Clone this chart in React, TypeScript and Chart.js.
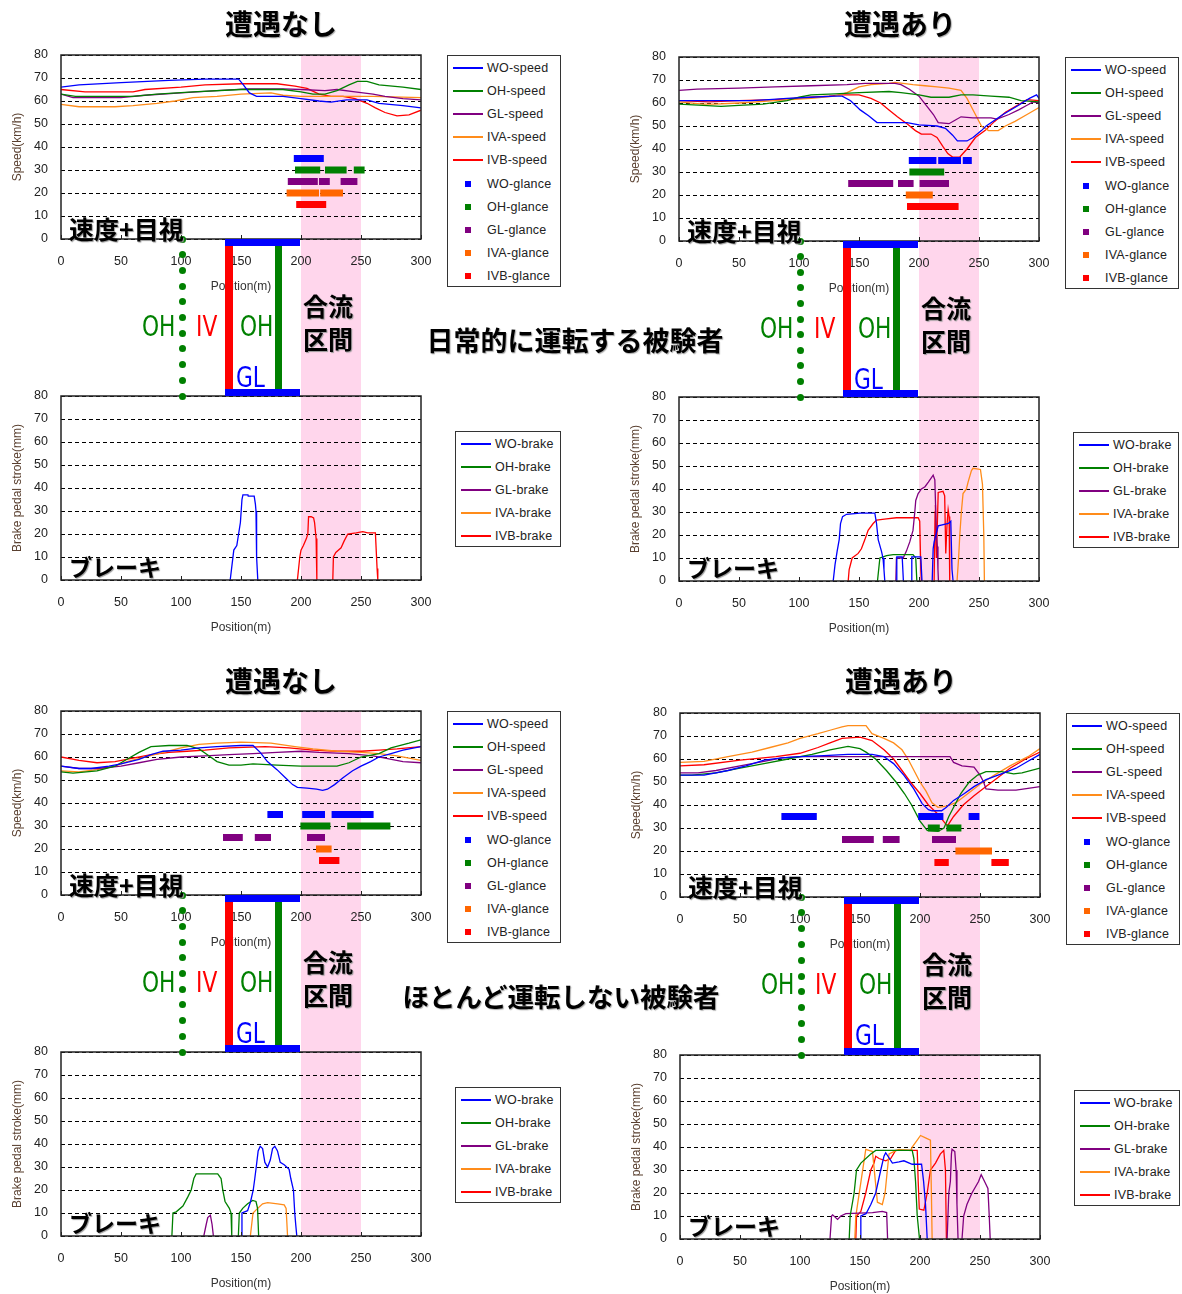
import React, { useEffect, useRef } from "react";
import { Chart, registerables } from "chart.js";
Chart.register(...registerables);

type P = [number, number | null];
type Seg = [number, number];

// ---------------- tick labels ----------------
const X_TICKS = [0, 50, 100, 150, 200, 250, 300];
const Y_TICKS = [0, 10, 20, 30, 40, 50, 60, 70, 80];

// ---------------- series meta ----------------
const SERIES = ["WO", "OH", "GL", "IVA", "IVB"];
const LINE_COLORS = ["#0000FF", "#008000", "#800080", "#FF8C1A", "#FF0000"];
const GLANCE_COLORS = ["#0000FF", "#008000", "#800080", "#FF6600", "#FF0000"];
const GLANCE_LEVELS = [35, 30, 25, 20, 15];

// ---------------- Panel A: 日常的 / 遭遇なし ----------------
const A_WO_speed: P[] = [[0,66],[15,67],[50,68],[90,69],[120,69.5],[148,69.5],[152,67],[157,63.5],[163,62],[185,62],[200,61],[215,60],[225,59.5],[238,60.5],[255,60.5],[265,59],[285,58],[300,57]];
const A_OH_speed: P[] = [[0,63],[12,62],[60,62],[80,63],[110,64],[150,65],[185,65],[200,64],[210,63],[220,63],[230,64.5],[240,67],[247,68.5],[255,68.5],[265,67],[285,66],[300,65]];
const A_GL_speed: P[] = [[0,63],[10,61.5],[50,61.5],[70,62.5],[100,63.5],[130,64.5],[155,65.3],[185,65.3],[200,65],[220,64.5],[230,65],[245,64],[260,63],[270,62],[285,61],[300,60.5]];
const A_IVA_speed: P[] = [[0,58.5],[15,57.5],[45,57.5],[60,58],[80,59],[95,60],[110,61.5],[130,62],[150,63],[175,63.5],[185,62.5],[200,62],[260,62],[300,61.5]];
const A_IVB_speed: P[] = [[0,65],[20,64],[60,64],[70,65],[100,66],[120,67],[150,67.5],[180,67.5],[195,66.5],[205,65.5],[215,63],[225,62],[235,62],[245,61],[255,59],[262,57],[270,55],[280,53.5],[290,54],[300,56]];
const A_WO_glance: Seg[] = [[194,219]];
const A_OH_glance: Seg[] = [[195,216],[220,238],[244,253]];
const A_GL_glance: Seg[] = [[189,214],[215,224],[233,247]];
const A_IVA_glance: Seg[] = [[188,215],[216,235]];
const A_IVB_glance: Seg[] = [[196,221]];
const A_WO_brake: P[] = [[141,0],[144,13],[146.5,15],[148,20],[149.5,25],[150.8,35],[151.6,37],[155.8,37],[156,36.5],[161,36.5],[162,33],[162.5,30],[163,10],[164,0]];
const A_OH_brake: P[] = [];
const A_GL_brake: P[] = [];
const A_IVA_brake: P[] = [];
const A_IVB_brake: P[] = [[197,0],[199,10],[200,13],[202,15],[204.5,18],[205.7,20],[206.3,27.5],[208.5,27.5],[210.5,27],[211.3,25],[212.6,18],[213.2,0],[220,null],[226.5,0],[227,10],[229,12],[233.4,14],[236,17],[239,20],[246,20.5],[251.5,21],[255.6,20.5],[262,20.5],[263.4,5],[264,0]];

// ---------------- Panel B: 日常的 / 遭遇あり ----------------
const B_WO_speed: P[] = [[0,61],[30,61],[60,61],[75,61.5],[90,62],[110,62.5],[130,63],[136,63],[143,61],[151,57],[158,54.5],[165,51.5],[190,51.5],[200,50.5],[215,50],[222,49],[228,46],[232,43.5],[240,43.5],[245,45],[252,48],[256,50],[270,55],[283,59],[292,62],[298,63.5],[300,62]];
const B_OH_speed: P[] = [[0,59.5],[20,59],[35,58.5],[50,59],[70,59.5],[90,61],[100,62.5],[110,63.5],[130,64],[150,64.5],[175,65],[185,64.5],[200,63.5],[210,62.5],[225,62.5],[235,63.5],[245,63.5],[260,63],[275,62.5],[285,61],[300,60.5]];
const B_GL_speed: P[] = [[0,65.5],[15,66],[50,66.5],[80,67],[110,67.5],[140,68],[155,68.5],[180,68.5],[185,68],[192,66],[200,63],[206,59],[212,55],[216,51.5],[225,51],[230,52.5],[235,54],[245,53.5],[260,53.5],[265,53],[275,55],[283,57],[290,59],[295,60.5],[300,60]];
const B_IVA_speed: P[] = [[0,60.5],[20,59.5],[30,59.5],[50,60],[80,61],[110,62],[130,63],[140,64.5],[150,67],[160,68],[175,68.5],[180,69],[195,68],[205,67.5],[215,67],[225,66.5],[235,65.5],[240,62],[247,55],[252,50],[258,48],[266,48],[272,50],[280,52],[290,55],[300,58]];
const B_IVB_speed: P[] = [[0,61],[25,60.5],[50,61],[80,61.5],[110,62.5],[125,63],[135,63.5],[150,63.5],[160,62],[168,60],[175,57],[182,54],[190,51],[197,48],[202,46.5],[210,46.5],[215,45],[220,41],[224,38],[228,36.5],[234,36.5],[240,40],[247,45],[255,48],[263,52],[272,56],[282,59],[290,61.5],[300,61]];
const B_WO_glance: Seg[] = [[191.5,214.5],[216,235],[236.5,244]];
const B_OH_glance: Seg[] = [[192,221]];
const B_GL_glance: Seg[] = [[141,178.5],[182.5,195.5],[200.5,225]];
const B_IVA_glance: Seg[] = [[189,211.5]];
const B_IVB_glance: Seg[] = [[190,233]];
const B_WO_brake: P[] = [[128.5,0],[130,7],[131.8,13],[133.5,18],[134.6,25],[136.3,28],[139.6,29],[150.7,29.5],[163.2,29.5],[164.6,25],[166,18],[168.7,13],[170,10],[170.8,5],[171.5,0],[176,null],[181,0],[181.5,10.5],[186,10.5],[187,0],[190,null],[193.5,0],[194,10.5],[199.5,10.5],[201.5,10.5],[202.5,0],[206,null],[211,0],[211.8,14],[212.6,17],[216,24],[224.5,25],[226.5,26],[227.5,5],[228.4,0]];
const B_OH_brake: P[] = [[165.4,0],[167.4,10],[173,11],[178.5,11.5],[195,11.5],[197.3,10],[198.2,0]];
const B_GL_brake: P[] = [[180.7,0],[181.2,10],[186.8,10],[189.5,13],[192.3,17],[195,22],[196.5,30],[197.3,35],[199.3,38],[202,40],[205,41],[207.8,43],[211.8,46],[213.2,44],[214.5,20],[215.3,15],[215.8,5],[216.2,0]];
const B_IVA_brake: P[] = [[231.7,0],[233,10],[234,20],[235.3,30],[236.7,38],[239.5,40],[240.9,43],[243.7,48],[245,49],[251.2,48.5],[252.9,42],[254,20],[254.5,0]];
const B_IVB_brake: P[] = [[141,0],[141.8,5],[144.3,10],[149.3,12],[152,14],[154.9,18],[157.6,22],[161.8,25],[164.6,26.5],[172.9,27],[181.2,27.5],[199.3,27.5],[200.6,26],[201.5,5],[202,0],[207,null],[212.6,0],[213.4,30],[213.7,33],[214.5,10],[216,38.5],[220,39],[221.4,37],[222.3,12],[223.4,25],[224.3,31],[225.1,28],[225.6,0]];

// ---------------- Panel C: ほとんど運転しない / 遭遇なし ----------------
const C_WO_speed: P[] = [[0,56],[15,55],[25,55],[40,56],[50,57],[65,59],[75,61],[85,62.5],[100,63],[115,64],[130,64.5],[150,65],[160,65],[166,62],[172,58],[180,54.5],[187,51],[193,48],[197,46.8],[205,46.5],[213,46],[218,45.5],[222,46],[228,48],[235,51],[243,54],[250,56],[258,58],[265,60],[275,61.5],[285,63],[300,64.5]];
const C_OH_speed: P[] = [[0,53.5],[10,53],[30,54],[45,56],[55,59],[65,62],[75,64.5],[90,65],[105,65],[115,63.5],[122,61],[130,58],[140,56.5],[150,56.5],[160,57],[180,56.5],[200,56],[230,56],[240,57.5],[250,60],[265,61.5],[275,64],[290,66],[300,67.5]];
const C_GL_speed: P[] = [[0,56],[15,55],[30,55],[50,56],[65,57.5],[80,59],[100,60],[120,60.5],[140,61],[160,61.5],[180,62],[200,62.5],[215,62],[240,61.5],[260,60.5],[270,59.5],[285,58],[300,57.5]];
const C_IVA_speed: P[] = [[0,54],[15,53.5],[30,54.5],[45,56],[55,58],[70,60],[85,62],[100,64],[115,65.5],[130,66],[150,66.5],[175,66],[195,64.5],[210,63.5],[230,62.5],[250,62],[265,61.5],[280,60.5],[290,59.5],[300,58.5]];
const C_IVB_speed: P[] = [[0,60],[15,58.5],[30,57.5],[45,58],[60,59.5],[75,61],[90,62],[105,62.5],[120,63],[140,64],[170,64.5],[190,64],[210,63],[230,62.5],[250,62.5],[265,63],[280,63.5],[300,64.5]];
const C_WO_glance: Seg[] = [[172,185],[201,220],[225.5,260.5]];
const C_OH_glance: Seg[] = [[199.5,224.5],[238.5,274.5]];
const C_GL_glance: Seg[] = [[135,151.5],[161.5,175],[205,220]];
const C_IVA_glance: Seg[] = [[212.5,225.5]];
const C_IVB_glance: Seg[] = [[215,232]];
const C_WO_brake: P[] = [[150,0],[150.8,10],[155.5,11],[158,15],[160.2,20],[161.5,25],[162.7,30],[164.3,37],[166,39],[168,38],[169.9,32],[172.2,30],[174.4,33],[176.3,38],[178.2,39],[180.4,37],[182.7,32],[186,31],[190.1,29],[191.5,25],[193.7,20],[194.8,10],[195.6,5],[196.5,0]];
const C_OH_brake: P[] = [[92.4,0],[93.3,10],[96,10.5],[101.6,13],[105.7,17],[108.5,20],[110.7,25],[112.6,27],[130.6,27],[133.4,25],[134.8,20],[136.7,15],[140.3,12],[141.7,10],[142.3,0],[145,null],[147.8,0],[148.6,10],[151.4,12],[155.5,14],[159.7,15.5],[162.5,15],[163.8,12],[164.7,0]];
const C_GL_brake: P[] = [[119,0],[121,5],[122.3,8],[124.5,9],[125.9,5],[127,0]];
const C_IVA_brake: P[] = [[157.8,0],[160,10],[163.9,12],[168,14],[172.2,14.5],[180.5,14],[186,13.5],[187.6,12],[188.8,0]];
const C_IVB_brake: P[] = [];

// ---------------- Panel D: ほとんど運転しない / 遭遇あり ----------------
const D_WO_speed: P[] = [[0,53],[20,53],[40,55],[55,57],[70,59.5],[85,60.5],[100,61],[120,61.5],[140,62],[160,62],[170,61],[178,58],[186.5,53],[194.8,47],[201.8,40.6],[207,38],[210,37.5],[218,37.5],[222,39],[228,42],[237,45],[245,48],[255,51],[270,54],[280,56],[290,59],[300,62]];
const D_OH_speed: P[] = [[0,53],[10,53],[30,54],[50,56],[70,58],[90,60],[110,62],[125,64],[140,65.5],[150,64.5],[155,63],[163,60],[172,55],[180,50],[187,45],[193,40],[200,33],[206,29],[215,28.5],[220,30],[224,35],[229,40],[234,45],[241,50],[248,53],[255,54.5],[268,54.5],[278,53.5],[285,54],[300,56]];
const D_GL_speed: P[] = [[0,54],[15,54],[30,55],[50,57],[70,59],[85,60.5],[100,61],[150,61],[200,61],[225,61],[228,58.5],[235,57],[245,56.5],[250,53],[253,50],[255,47],[265,46.5],[280,46.5],[300,48]];
const D_IVA_speed: P[] = [[0,58.5],[20,59],[40,61],[60,63],[75,65],[90,67],[100,69],[115,71],[125,72.5],[135,74],[140,74.5],[155,74.5],[160,71],[170,69],[178,67],[185,64],[190,60],[195,55],[200,50],[205,46],[210,41],[215,39],[222,39.5],[230,41],[240,45],[250,49],[262,53],[275,57],[290,61],[300,64.5]];
const D_IVB_speed: P[] = [[0,57],[20,57.5],[50,59.5],[80,61],[100,62.5],[115,65],[125,67],[135,69],[150,69.5],[160,68],[170,64],[178,60],[185,55],[192,50],[200,45],[207,40],[215,36],[221,32],[223,31],[228,35],[236,40],[245,44],[255,48],[265,52],[275,56],[288,60],[300,63]];
const D_WO_glance: Seg[] = [[84.5,114],[198.5,219.5],[240.5,249.5]];
const D_OH_glance: Seg[] = [[206.5,216.5],[222,234.5]];
const D_GL_glance: Seg[] = [[135,161.5],[169,183],[210,230]];
const D_IVA_glance: Seg[] = [[229.5,260]];
const D_IVB_glance: Seg[] = [[212,224],[259.5,274]];
const D_WO_brake: P[] = [[150.1,0],[150.7,10],[155,11],[159,15],[163.1,20],[167.3,30],[170,36],[171.4,37.5],[177,33],[182.5,33.5],[186.6,34],[193.5,32.5],[201.3,32.5],[203,25],[204.6,15],[206,0]];
const D_OH_brake: P[] = [[141,0],[141.8,10],[145.1,20],[147.1,30],[150.7,33],[159,37],[163.1,38.5],[193.5,38.5],[194.9,35],[196.3,25],[197.7,10],[199.6,0]];
const D_GL_brake: P[] = [[125,0],[126.3,10],[127.2,10.5],[131.3,8.5],[134,10],[138.2,11],[160.4,11.5],[168.6,12],[172.2,11.5],[173,0],[200,null],[222.6,0],[224,20],[225.3,25],[226.2,37],[226.7,39],[229,38],[230.1,30],[230.8,15],[231.7,0],[233,null],[235,0],[236.4,10],[239.1,15],[243.3,20],[248.8,25],[251,28],[253.8,25],[256.6,22],[257.7,10],[258.5,0]];
const D_IVA_brake: P[] = [[145.7,0],[146.5,10],[147.1,12],[154.8,39],[160.4,38],[164.5,16],[168.6,15],[170.9,20],[172.8,30],[174.2,37],[178.3,38],[182.5,39],[192.2,38.5],[193.5,40],[197.7,43],[200.4,45],[204.6,44],[208.7,43],[209.5,20],[210.1,0]];
const D_IVB_brake: P[] = [[146.5,0],[147.1,10],[150.7,12],[154.8,20],[159,30],[161.7,33],[163.1,36],[165.9,35],[171.4,34],[175.6,35],[179.7,38.5],[197.7,38.5],[198.5,25],[199.4,13],[203.2,12.5],[206,20],[208.7,30],[212.9,33],[217,37],[219.8,38.5],[221.2,30],[222,0]];

// ---------------- layout constants ----------------
const FONT = "'Liberation Sans', Arial, Helvetica, sans-serif";
const CJK = "'Noto Sans CJK JP', 'Noto Sans CJK SC', sans-serif";
const NARROW = "'DejaVu Sans', sans-serif";
const PLOT_W = 360;
const PLOT_H = 184;
const PAD_L = 61;
const PAD_T = 24;
const PAD_R = 30;
const AX_H = 60;
const PINK = "#FFD6EC";

const toXY = (arr: P[]) => arr.map(([x, y]) => ({ x, y }));
const glanceXY = (segs: Seg[], level: number) => {
  const out: { x: number; y: number | null }[] = [];
  segs.forEach(([a, b]) => {
    out.push({ x: a, y: level }, { x: b, y: level }, { x: b, y: null });
  });
  return out;
};

const framePlugin = {
  id: "frame",
  afterDatasetsDraw(chart: any) {
    const { ctx, chartArea: a } = chart;
    const xs = chart.scales.x;
    ctx.save();
    ctx.strokeStyle = "#222";
    ctx.lineWidth = 1.5;
    ctx.strokeRect(a.left, a.top, a.right - a.left, a.bottom - a.top);
    ctx.lineWidth = 1;
    X_TICKS.forEach((v) => {
      const px = Math.round(xs.getPixelForValue(v)) + 0.5;
      ctx.beginPath();
      ctx.moveTo(px, a.bottom);
      ctx.lineTo(px, a.bottom - 4);
      ctx.stroke();
    });
    ctx.restore();
  },
};

function ChartCanvas({ left, top, datasets, yTitle }: { left: number; top: number; datasets: any[]; yTitle: string }) {
  const ref = useRef<HTMLCanvasElement>(null);
  const w = PAD_L + PLOT_W + PAD_R;
  const h = PAD_T + PLOT_H + AX_H;
  useEffect(() => {
    const tickFont = { family: FONT, size: 12.5 };
    const chart = new Chart(ref.current as HTMLCanvasElement, {
      type: "line",
      data: { datasets },
      options: {
        responsive: false,
        animation: false,
        devicePixelRatio: 1,
        layout: { padding: { left: 0, top: PAD_T, right: PAD_R, bottom: 0 } },
        plugins: { legend: { display: false }, tooltip: { enabled: false } },
        elements: { point: { radius: 0 }, line: { tension: 0 } },
        scales: {
          x: {
            type: "linear",
            min: 0,
            max: 300,
            afterBuildTicks: (s: any) => {
              s.ticks = X_TICKS.map((v) => ({ value: v }));
            },
            ticks: { padding: 15, color: "#222", font: tickFont, maxRotation: 0, autoSkip: false },
            grid: { display: false, drawTicks: false },
            border: { display: false },
            title: { display: true, text: "Position(m)", color: "#333", font: { family: FONT, size: 12 }, padding: { top: 0, bottom: 5 } },
            afterFit: (s: any) => {
              s.height = AX_H;
            },
          },
          y: {
            type: "linear",
            min: 0,
            max: 80,
            afterBuildTicks: (s: any) => {
              s.ticks = Y_TICKS.map((v) => ({ value: v }));
            },
            ticks: { padding: 13, color: "#222", font: tickFont },
            grid: { color: "#000", lineWidth: 1, drawTicks: false },
            border: { display: false, dash: [4, 3] },
            title: { display: true, text: yTitle, color: "#5a4030", font: { family: FONT, size: 12 }, padding: { top: 10, bottom: 0 } },
            afterFit: (s: any) => {
              s.width = PAD_L;
            },
          },
        },
      } as any,
      plugins: [framePlugin],
    });
    return () => chart.destroy();
  }, []);
  return <canvas ref={ref} width={w} height={h} style={{ position: "absolute", left, top, width: w, height: h }} />;
}

function speedDatasets(lines: P[][], glances: Seg[][]) {
  const ds: any[] = [];
  glances.forEach((g, i) => {
    ds.push({
      label: SERIES[i] + "-glance",
      data: glanceXY(g, GLANCE_LEVELS[i]),
      borderColor: GLANCE_COLORS[i],
      borderWidth: 7,
      borderCapStyle: "butt",
      pointRadius: 0,
      spanGaps: false,
      clip: false,
    });
  });
  lines.forEach((l, i) => {
    ds.push({
      label: SERIES[i] + "-speed",
      data: toXY(l),
      borderColor: LINE_COLORS[i],
      borderWidth: 1.3,
      pointRadius: 0,
      spanGaps: false,
    });
  });
  return ds;
}

function brakeDatasets(lines: P[][]) {
  return lines.map((l, i) => ({
    label: SERIES[i] + "-brake",
    data: toXY(l),
    borderColor: LINE_COLORS[i],
    borderWidth: 1.3,
    pointRadius: 0,
    spanGaps: false,
  }));
}

function Legend({ left, top, width, height, items }: { left: number; top: number; width: number; height: number; items: { label: string; color: string; kind: string }[] }) {
  return (
    <div style={{ position: "absolute", left, top, width, height, border: "1px solid #333", boxSizing: "border-box", background: "#fff" }}>
      {items.map((it, i) => {
        const cy = Math.round(12 + i * 23.1);
        return (
          <React.Fragment key={i}>
            {it.kind === "line" ? (
              <div style={{ position: "absolute", left: 5, top: cy - 1, width: 30, height: 2, background: it.color }} />
            ) : (
              <div style={{ position: "absolute", left: 17, top: cy - 3, width: 6, height: 6, background: it.color }} />
            )}
            <div style={{ position: "absolute", left: 39, top: cy - 8, height: 16, lineHeight: "16px", fontFamily: FONT, fontSize: 12.5, color: "#222", whiteSpace: "nowrap", letterSpacing: 0.2 }}>
              {it.label}
            </div>
          </React.Fragment>
        );
      })}
    </div>
  );
}

const SPEED_LEGEND = [
  ...SERIES.map((s, i) => ({ label: s + "-speed", color: LINE_COLORS[i], kind: "line" })),
  ...SERIES.map((s, i) => ({ label: s + "-glance", color: GLANCE_COLORS[i], kind: "square" })),
];
const BRAKE_LEGEND = SERIES.map((s, i) => ({ label: s + "-brake", color: LINE_COLORS[i], kind: "line" }));

function Txt({ x, y, size, color, children, font, weight, scaleX, shadow }: any) {
  return (
    <div
      style={{
        position: "absolute",
        left: x,
        top: y - size * 0.6,
        height: size * 1.2,
        lineHeight: `${size * 1.2}px`,
        fontSize: size,
        fontFamily: font || CJK,
        fontWeight: weight || 700,
        color: color || "#000",
        whiteSpace: "nowrap",
        transform: scaleX ? `scaleX(${scaleX})` : undefined,
        transformOrigin: "left center",
        textShadow: shadow,
      }}
    >
      {children}
    </div>
  );
}

function CenterTxt({ cx, cy, size, children, spacing }: any) {
  return (
    <div
      style={{
        position: "absolute",
        left: cx - 300,
        width: 600,
        top: cy - size * 0.6,
        lineHeight: `${size * 1.2}px`,
        textAlign: "center",
        fontSize: size,
        fontFamily: CJK,
        fontWeight: 700,
        color: "#000",
        whiteSpace: "nowrap",
        letterSpacing: spacing || 0,
        textShadow: "1px 1px 1px #aaa",
      }}
    >
      {children}
    </div>
  );
}

function Panel({ ox, oy, bOy, speeds, glances, brakes }: { ox: number; oy: number; bOy: number; speeds: P[][]; glances: Seg[][]; brakes: P[][] }) {
  const mx = (m: number) => ox + (m * PLOT_W) / 300;
  const y0 = oy + PLOT_H;
  const dots = Array.from({ length: 11 }, (_, i) => y0 + (i * (bOy - y0)) / 10);
  const halo = "1px 1px 1px #999";
  return (
    <>
      <div style={{ position: "absolute", left: mx(200), top: oy, width: mx(250) - mx(200), height: bOy + PLOT_H - oy, background: PINK }} />
      <ChartCanvas left={ox - PAD_L} top={oy - PAD_T} datasets={speedDatasets(speeds, glances)} yTitle="Speed(km/h)" />
      <ChartCanvas left={ox - PAD_L} top={bOy - PAD_T} datasets={brakeDatasets(brakes)} yTitle="Brake pedal stroke(mm)" />
      <Legend left={ox + PLOT_W + 26} top={oy} width={114} height={232} items={SPEED_LEGEND} />
      <Legend left={ox + PLOT_W + 34} top={bOy + 35} width={106} height={116} items={BRAKE_LEGEND} />
      {/* diagram */}
      {dots.map((y, i) => (
        <div key={i} style={{ position: "absolute", left: mx(101) - 3.5, top: y - 3.5, width: 7, height: 7, borderRadius: "50%", background: "#008000" }} />
      ))}
      <div style={{ position: "absolute", left: mx(137), top: y0 + 7, width: mx(143) - mx(137), height: bOy - y0 - 14, background: "#FF0000" }} />
      <div style={{ position: "absolute", left: mx(178.5), top: y0 + 7, width: mx(184.5) - mx(178.5), height: bOy - y0 - 14, background: "#008000" }} />
      <div style={{ position: "absolute", left: mx(137), top: y0, width: mx(199) - mx(137), height: 7, background: "#0000FF" }} />
      <div style={{ position: "absolute", left: mx(137), top: bOy - 7, width: mx(199) - mx(137), height: 7, background: "#0000FF" }} />
      <Txt x={ox + 81} y={oy + 271} size={29} color="#008000" font={NARROW} weight={400} scaleX={0.75}>OH</Txt>
      <Txt x={ox + 135} y={oy + 271} size={29} color="#FF0000" font={NARROW} weight={400} scaleX={0.75}>IV</Txt>
      <Txt x={ox + 179} y={oy + 271} size={29} color="#008000" font={NARROW} weight={400} scaleX={0.75}>OH</Txt>
      <Txt x={ox + 175} y={oy + 322} size={29} color="#0000FF" font={NARROW} weight={400} scaleX={0.75}>GL</Txt>
      <Txt x={ox + 242} y={oy + 250} size={25} shadow={halo}>合流</Txt>
      <Txt x={ox + 242} y={oy + 283} size={25} shadow={halo}>区間</Txt>
      <Txt x={ox + 8} y={oy + 173} size={25} shadow={halo}>速度+目視</Txt>
      <Txt x={ox + 8} y={bOy + 171} size={23} shadow={halo}>ブレーキ</Txt>
    </>
  );
}

export default function App() {
  return (
    <div style={{ position: "absolute", left: 0, top: 0, width: 1182, height: 1294, background: "#fff", overflow: "hidden" }}>
      <Panel ox={61} oy={55} bOy={396}
        speeds={[A_WO_speed, A_OH_speed, A_GL_speed, A_IVA_speed, A_IVB_speed]}
        glances={[A_WO_glance, A_OH_glance, A_GL_glance, A_IVA_glance, A_IVB_glance]}
        brakes={[A_WO_brake, A_OH_brake, A_GL_brake, A_IVA_brake, A_IVB_brake]} />
      <Panel ox={679} oy={57} bOy={397}
        speeds={[B_WO_speed, B_OH_speed, B_GL_speed, B_IVA_speed, B_IVB_speed]}
        glances={[B_WO_glance, B_OH_glance, B_GL_glance, B_IVA_glance, B_IVB_glance]}
        brakes={[B_WO_brake, B_OH_brake, B_GL_brake, B_IVA_brake, B_IVB_brake]} />
      <Panel ox={61} oy={711} bOy={1052}
        speeds={[C_WO_speed, C_OH_speed, C_GL_speed, C_IVA_speed, C_IVB_speed]}
        glances={[C_WO_glance, C_OH_glance, C_GL_glance, C_IVA_glance, C_IVB_glance]}
        brakes={[C_WO_brake, C_OH_brake, C_GL_brake, C_IVA_brake, C_IVB_brake]} />
      <Panel ox={680} oy={713} bOy={1055}
        speeds={[D_WO_speed, D_OH_speed, D_GL_speed, D_IVA_speed, D_IVB_speed]}
        glances={[D_WO_glance, D_OH_glance, D_GL_glance, D_IVA_glance, D_IVB_glance]}
        brakes={[D_WO_brake, D_OH_brake, D_GL_brake, D_IVA_brake, D_IVB_brake]} />
      <CenterTxt cx={281} cy={24} size={28}>遭遇なし</CenterTxt>
      <CenterTxt cx={900} cy={24} size={28}>遭遇あり</CenterTxt>
      <CenterTxt cx={281} cy={681} size={28}>遭遇なし</CenterTxt>
      <CenterTxt cx={901} cy={681} size={28}>遭遇あり</CenterTxt>
      <CenterTxt cx={575} cy={340} size={27}>日常的に運転する被験者</CenterTxt>
      <CenterTxt cx={561} cy={996} size={26.5}>ほとんど運転しない被験者</CenterTxt>
    </div>
  );
}
